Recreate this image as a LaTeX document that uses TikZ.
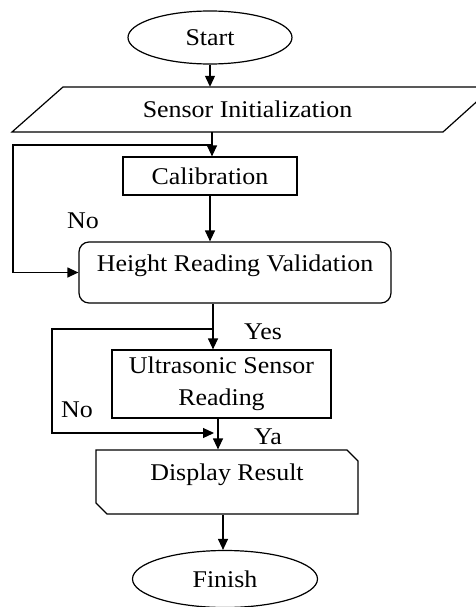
\documentclass[tikz,border=0pt]{standalone}
\usepackage{fontspec}
\setmainfont[FakeStretch=1.08]{Liberation Serif}
\usetikzlibrary{shapes.geometric,shapes.misc,arrows.meta}
\begin{document}
\begin{tikzpicture}[x=1pt,y=1pt]
\tikzstyle{every node}+=[inner sep=0pt,font=\fontsize{24}{32}\selectfont]
\tikzstyle{box}=[draw=black,line width=1.2pt]
\tikzstyle{arrow}=[black,line width=1.2pt,-{Triangle[length=11pt,width=10pt]}]
\tikzstyle{lifted}=[text height=16pt,text depth=19pt]
\useasboundingbox (0,0) rectangle (475,-607);
\node [box,ellipse,minimum width=164,minimum height=53] (start) at (210,-37.5) {Start};
\node [rectangle,minimum width=431,minimum height=45] (init) at (247.5,-109.5) {Sensor Initialization};
\draw [box] (12,-132) -- (63,-87) -- (493,-87) -- (443,-132) -- cycle;
\node [box,rectangle,minimum width=174,minimum height=38] (calib) at (210,-176) {Calibration};
\node [box,rectangle,rounded corners=10pt,minimum width=312,minimum height=61,lifted] (valid) at (235,-272.5) {Height Reading Validation};
\node [box,rectangle,minimum width=219,minimum height=68,align=center,yshift=-3pt] (usr) at (221.5,-381) {Ultrasonic Sensor\\Reading};
\node [box,chamfered rectangle,chamfered rectangle corners={north east,south west},chamfered rectangle xsep=5.5pt,chamfered rectangle ysep=5.5pt,minimum width=262,minimum height=64,lifted] (disp) at (227,-482) {Display Result};
\node [box,ellipse,minimum width=185,minimum height=57] (finish) at (225,-579) {Finish};
\coordinate (j1) at (212,-145);
\coordinate (l1) at (13,-145);
\coordinate (j2) at (213,-329);
\coordinate (l2) at (52,-329);
\coordinate (m2) at (214,-433);
\draw [arrow] (start.south) -- (start.south |- init.north);
\draw [arrow] ([xshift=2pt]calib.north |- init.south) -- ([xshift=2pt]calib.north);
\draw [arrow] (j1) -- (l1) |- (valid.west);
\draw [arrow] (calib.south) -- (calib.south |- valid.north);
\draw [arrow] ([xshift=-8.5pt]usr.north |- valid.south) -- ([xshift=-8.5pt]usr.north);
\draw [arrow] (j2) -- (l2) |- (m2);
\draw [arrow] ([xshift=-3.5pt]usr.south) -- ([xshift=-3.5pt]usr.south |- disp.north);
\draw [arrow] ([xshift=-4pt]disp.south) -- ([xshift=-4pt]disp.south |- finish.north);
\node (no1) at (83,-221) {No};
\node (yes) at (263,-332) {Yes};
\node (no2) at (77,-410) {No};
\node (ya) at (268,-437) {Ya};
\end{tikzpicture}
\end{document}
